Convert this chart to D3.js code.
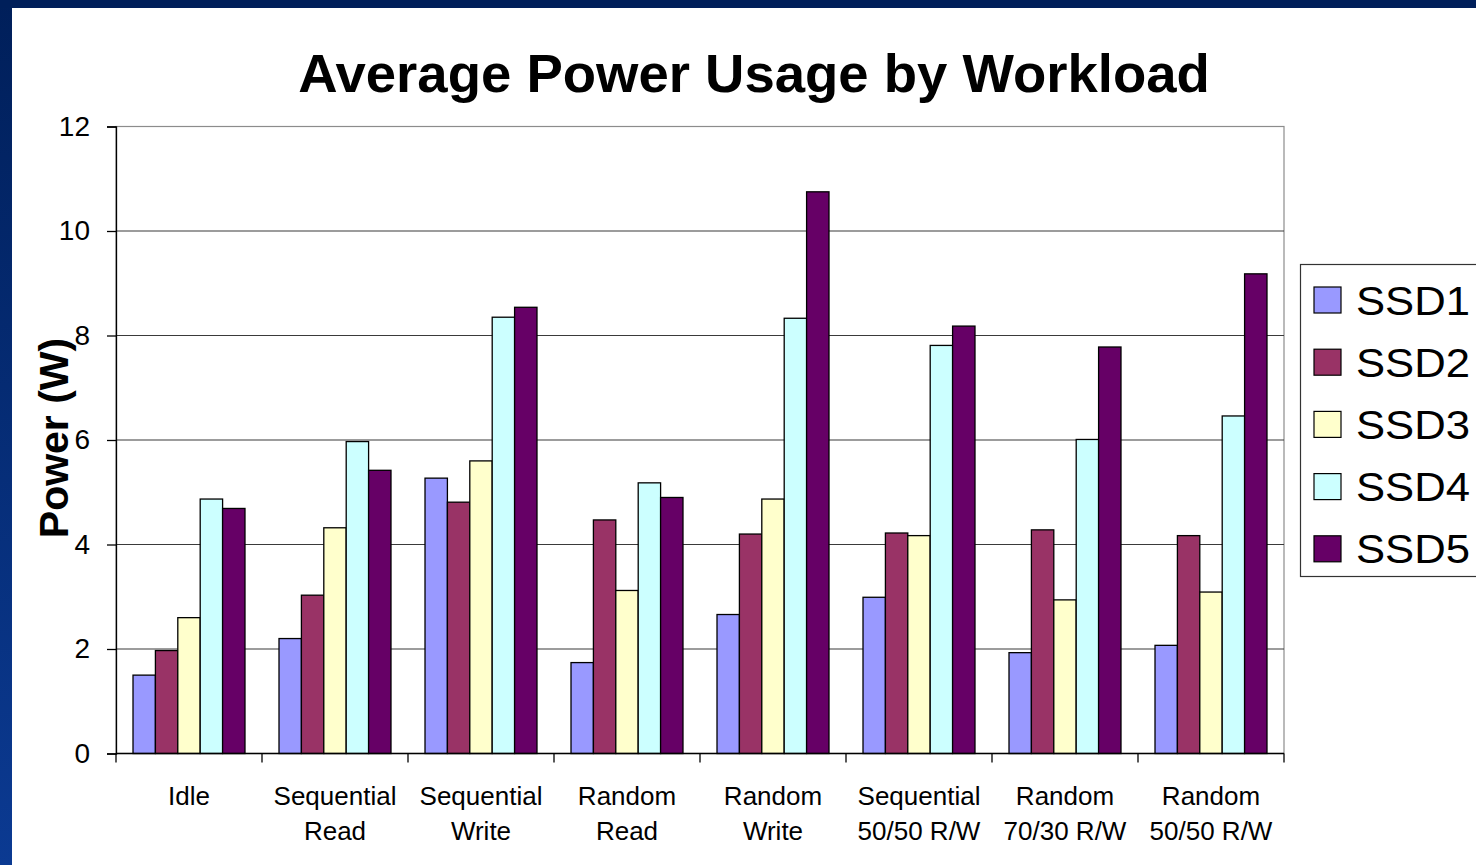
<!DOCTYPE html>
<html>
<head>
<meta charset="utf-8">
<script src="https://cdn.jsdelivr.net/npm/d3@7"></script>
<style>
  html, body { margin: 0; padding: 0; background: #ffffff; }
  svg { display: block; font-family: "Liberation Sans", Arial, sans-serif; }
</style>
</head>
<body>
<svg id="chart" width="1476" height="865"></svg>
<script>
// Workload categories (two-line labels) and drives
const categories = ["Idle", "Sequential Read", "Sequential Write", "Random Read", "Random Write",
                    "Sequential 50/50 R/W", "Random 70/30 R/W", "Random 50/50 R/W"];
const categoryLines = [["Idle"], ["Sequential", "Read"], ["Sequential", "Write"], ["Random", "Read"],
                       ["Random", "Write"], ["Sequential", "50/50 R/W"], ["Random", "70/30 R/W"], ["Random", "50/50 R/W"]];
const seriesNames = ["SSD1", "SSD2", "SSD3", "SSD4", "SSD5"];

// Average power (W) per drive, one value per workload
const ssd1 = [1.50, 2.20, 5.27, 1.74, 2.66, 2.99, 1.93, 2.07];
const ssd2 = [1.97, 3.03, 4.81, 4.47, 4.20, 4.22, 4.28, 4.17];
const ssd3 = [2.60, 4.32, 5.60, 3.12, 4.87, 4.17, 2.94, 3.09];
const ssd4 = [4.87, 5.97, 8.35, 5.18, 8.33, 7.81, 6.01, 6.46];
const ssd5 = [4.69, 5.42, 8.54, 4.90, 10.75, 8.18, 7.78, 9.18];

const yTicks = [0, 2, 4, 6, 8, 10, 12];
const seriesColors = ["#9999FF", "#993366", "#FFFFCC", "#CCFFFF", "#660066"];

const seriesValues = [ssd1, ssd2, ssd3, ssd4, ssd5];
const rows = categories.map((c, i) => ({
  category: c,
  lines: categoryLines[i],
  values: seriesNames.map((s, j) => ({ series: s, value: seriesValues[j][i] }))
}));

const svg = d3.select("#chart");
const W = 1476, H = 865;

// Slide frame: navy band on top, blue gradient band on the left
const defs = svg.append("defs");
const grad = defs.append("linearGradient").attr("id", "sideGrad")
  .attr("x1", 0).attr("y1", 0).attr("x2", 0).attr("y2", 1);
grad.append("stop").attr("offset", "0%").attr("stop-color", "#001f5a");
grad.append("stop").attr("offset", "100%").attr("stop-color", "#0b3a92");
svg.append("rect").attr("x", 0).attr("y", 0).attr("width", W).attr("height", H).attr("fill", "#ffffff");
svg.append("rect").attr("x", 0).attr("y", 0).attr("width", 12).attr("height", H).attr("fill", "url(#sideGrad)");
svg.append("rect").attr("x", 0).attr("y", 0).attr("width", W).attr("height", 8).attr("fill", "#001f5a");

// Plot area
const plot = { left: 116, right: 1284, top: 126.5, bottom: 753.5 };

const x0 = d3.scaleBand().domain(categories).range([plot.left, plot.right]).padding(0);
const groupPad = x0.bandwidth() * 0.1165;
const x1 = d3.scaleBand().domain(seriesNames).range([groupPad, x0.bandwidth() - groupPad]).padding(0);
const y = d3.scaleLinear().domain([0, 12]).range([plot.bottom, plot.top]);
const color = d3.scaleOrdinal().domain(seriesNames).range(seriesColors);

// Plot border (top/right)
svg.append("rect")
  .attr("x", plot.left).attr("y", plot.top)
  .attr("width", plot.right - plot.left).attr("height", plot.bottom - plot.top)
  .attr("fill", "none").attr("stroke", "#8c8c8c").attr("stroke-width", 1.2);

// Horizontal gridlines
svg.append("g")
  .selectAll("line")
  .data(yTicks.filter(t => t > 0 && t < 12))
  .join("line")
  .attr("x1", plot.left).attr("x2", plot.right)
  .attr("y1", d => y(d)).attr("y2", d => y(d))
  .attr("stroke", "#3a3a3a").attr("stroke-width", 1.2);

// Bars
const groups = svg.append("g")
  .selectAll("g")
  .data(rows)
  .join("g")
  .attr("transform", d => `translate(${x0(d.category)},0)`);

groups.selectAll("rect")
  .data(d => d.values)
  .join("rect")
  .attr("x", d => x1(d.series))
  .attr("y", d => y(d.value))
  .attr("width", x1.bandwidth())
  .attr("height", d => y(0) - y(d.value))
  .attr("fill", d => color(d.series))
  .attr("stroke", "#000000")
  .attr("stroke-width", 1.3);

// Y axis
const yAxis = d3.axisLeft(y).tickValues(yTicks).tickSize(9).tickPadding(17).tickFormat(d3.format("d"));
const gy = svg.append("g").attr("transform", `translate(${plot.left},0)`).call(yAxis);
gy.select(".domain").attr("stroke", "#000").attr("stroke-width", 1.3);
gy.selectAll(".tick line").attr("stroke", "#000").attr("stroke-width", 1.3);
gy.selectAll(".tick text").attr("font-size", 28).attr("fill", "#000")
  .attr("font-family", "'Liberation Sans', Arial, sans-serif");

// X axis with ticks at category boundaries
const gx = svg.append("g").attr("transform", `translate(0,${plot.bottom})`);
gx.append("line").attr("x1", plot.left).attr("x2", plot.right).attr("y1", 0).attr("y2", 0)
  .attr("stroke", "#000").attr("stroke-width", 1.3);
const boundaries = categories.map(c => x0(c)).concat([plot.right]);
gx.selectAll("line.tk").data(boundaries).join("line").attr("class", "tk")
  .attr("x1", d => d).attr("x2", d => d).attr("y1", 0).attr("y2", 9)
  .attr("stroke", "#000").attr("stroke-width", 1.3);

// Category labels
const labels = svg.append("g").selectAll("text").data(rows).join("text")
  .attr("x", d => x0(d.category) + x0.bandwidth() / 2)
  .attr("y", 805)
  .attr("text-anchor", "middle")
  .attr("font-size", 26)
  .attr("fill", "#000");
labels.selectAll("tspan").data(d => d.lines).join("tspan")
  .attr("x", function () { return d3.select(this.parentNode).attr("x"); })
  .attr("dy", (d, i) => i === 0 ? 0 : 35)
  .text(d => d);

// Title
svg.append("text")
  .attr("x", 754).attr("y", 92)
  .attr("text-anchor", "middle")
  .attr("font-size", 54.5).attr("font-weight", "bold")
  .attr("fill", "#000")
  .text("Average Power Usage by Workload");

// Y axis title
svg.append("text")
  .attr("transform", `translate(68,438) rotate(-90)`)
  .attr("text-anchor", "middle")
  .attr("font-size", 41).attr("font-weight", "bold")
  .attr("fill", "#000")
  .text("Power (W)");

// Legend
const legend = svg.append("g");
legend.append("rect")
  .attr("x", 1300.5).attr("y", 264.5).attr("width", 200).attr("height", 312)
  .attr("fill", "#fff").attr("stroke", "#333").attr("stroke-width", 1.2);
const items = legend.selectAll("g.item").data(seriesNames).join("g").attr("class", "item")
  .attr("transform", (d, i) => `translate(0,${300 + i * 62.2})`);
items.append("rect")
  .attr("x", 1314).attr("y", -13).attr("width", 27).attr("height", 26)
  .attr("fill", d => color(d)).attr("stroke", "#000").attr("stroke-width", 1.2);
items.append("text")
  .attr("x", 1356).attr("y", 14.5)
  .attr("font-size", 41).attr("fill", "#000")
  .attr("textLength", 114).attr("lengthAdjust", "spacingAndGlyphs")
  .text(d => d);
</script>
</body>
</html>
